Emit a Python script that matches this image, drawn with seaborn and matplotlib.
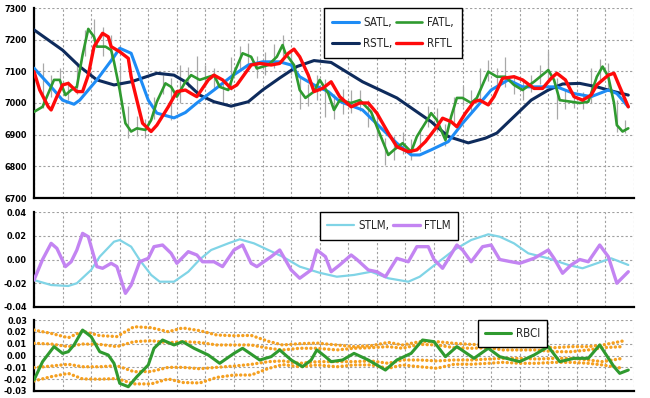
import matplotlib
matplotlib.use("Agg")
import matplotlib.pyplot as plt
import seaborn as sns
import numpy as np

# ---------------- data (x in bar-index units, 0..210) ----------------
rstl_x = [0,10,16,22,28,34,43,49,53,58,63,69,75,80,86,92,98,104,115,127,139,145,152,158,162,168,174,180,185,191,197,203,208]
rstl_y = [7231,7167,7115,7073,7057,7067,7094,7088,7067,7025,7004,6990,7004,7041,7079,7115,7134,7128,7067,7016,6941,6894,6874,6889,6905,6957,7009,7041,7060,7062,7051,7036,7025]

satl_x = [0,6,10,14,16,22,28,30,34,37,40,43,49,53,57,63,69,75,80,86,90,93,98,103,107,115,121,127,132,135,139,145,150,155,160,166,171,177,183,189,195,201,204,208]
satl_y = [7110,7051,7009,6996,7009,7073,7146,7173,7157,7083,7009,6968,6953,6970,7000,7041,7083,7120,7130,7130,7120,7083,7057,7036,7005,6978,6925,6873,6836,6836,6852,6878,6936,6988,7041,7073,7051,7051,7051,7030,7020,7041,7030,6988]

fatl_x = [0,3,7,9,11,13,15,17,19,21,22,25,27,28,30,32,34,36,39,41,43,46,48,50,53,55,58,63,65,68,70,73,76,78,82,85,87,88,91,93,95,98,100,103,105,107,111,114,118,120,124,126,129,132,134,138,139,141,144,146,148,150,153,155,159,162,165,168,171,175,180,182,184,188,191,194,197,199,201,203,204,206,208]
fatl_y = [6972,6988,7073,7073,7025,7041,7051,7152,7234,7209,7178,7178,7167,7130,7041,6936,6910,6920,6915,6946,7004,7062,7051,7020,7067,7088,7073,7088,7051,7041,7094,7157,7146,7109,7120,7146,7183,7157,7120,7041,7016,7036,7073,7030,6978,7009,7000,7009,6972,6925,6836,6852,6873,6846,6894,6952,6968,6946,6883,6957,7016,7016,7000,7016,7099,7083,7083,7057,7041,7067,7104,7073,7009,7004,7000,7004,7083,7115,7083,7000,6930,6910,6920]

rftl_x = [0,2,5,6,8,10,12,15,17,19,21,24,26,27,30,33,34,36,38,41,43,47,50,53,55,57,61,63,66,69,71,76,79,83,86,89,91,93,96,98,101,104,107,111,114,117,120,124,127,131,134,137,141,143,146,148,151,154,156,159,161,164,168,171,175,178,181,183,186,189,192,195,197,201,203,205,208]
rftl_y = [7099,7041,6988,6978,7020,7057,7062,7036,7036,7088,7178,7220,7209,7178,7162,7141,7083,7009,6936,6910,6930,6988,7036,7041,7030,7020,7073,7088,7073,7046,7057,7120,7125,7120,7125,7157,7170,7146,7088,7036,7046,7067,7020,6988,7000,7000,6968,6905,6862,6846,6852,6878,6925,6952,6941,6925,6968,7004,7009,6994,7020,7078,7083,7073,7046,7046,7078,7094,7073,7020,7009,7025,7057,7088,7094,7051,6988]

bar_x = list(range(0, 208, 3))
bar_high = [7010,7125,7090,7110,7070,7130,7230,7265,7240,7215,7120,6990,6960,6950,7020,7090,7080,7120,7115,7150,7120,7110,7070,7145,7180,7190,7150,7160,7185,7215,7160,7080,7060,7090,7075,7030,7045,7040,7040,7010,6975,6890,6895,6910,6885,6920,6990,6985,6935,7020,7055,7040,7110,7135,7110,7145,7090,7075,7090,7120,7165,7080,7040,7030,7035,7110,7140,7125,7010,6945]
bar_low = [6960,6985,7020,7040,7010,7030,7150,7180,7150,7140,7020,6890,6895,6890,6950,7030,6945,7000,7050,7030,7050,7040,7000,7040,7100,7120,7080,7090,7110,7150,7090,6980,6990,7010,6955,6950,6965,6970,6975,6925,6890,6805,6820,6840,6820,6850,6925,6910,6865,6940,6990,6975,7000,7070,7050,7050,7030,7010,7035,7060,7075,6950,6980,6985,6980,7000,7070,7040,6910,6905]

stlm_x = [0,6,12,15,20,23,28,30,34,37,41,44,49,54,58,62,68,72,77,82,87,93,100,106,112,118,124,131,135,141,147,153,159,163,168,173,180,187,192,197,202,208]
stlm_y = [-0.0173,-0.0215,-0.0223,-0.020,-0.0088,0.0024,0.015,0.0164,0.0108,-0.0004,-0.013,-0.0187,-0.0187,-0.0103,0.0,0.008,0.0136,0.017,0.0136,0.008,0.0024,-0.006,-0.0112,-0.0145,-0.013,-0.0103,-0.0158,-0.0187,-0.0145,-0.0032,0.008,0.0164,0.0212,0.0192,0.0136,0.0052,0.001,-0.0046,-0.0074,-0.0032,0.001,-0.0046]

ftlm_x = [0,3,6,8,11,13,15,17,19,22,24,27,29,32,34,37,40,42,45,48,50,54,57,59,63,66,70,73,76,78,83,86,90,93,97,99,102,104,107,111,113,117,120,123,127,131,134,138,140,143,148,150,153,157,160,163,167,170,175,180,182,185,188,191,194,198,201,204,208]
ftlm_y = [-0.0173,0.0,0.0136,0.0094,-0.006,-0.0019,0.008,0.022,0.0192,-0.006,-0.0074,-0.0032,-0.006,-0.0285,-0.0215,-0.0019,0.001,0.0108,0.0122,0.0052,-0.0032,0.0066,0.0038,-0.0019,-0.0019,-0.006,0.008,0.0122,-0.0032,-0.006,0.0024,0.008,-0.0088,-0.0158,-0.0088,0.008,0.0024,-0.0103,-0.0046,0.0038,0.0,-0.0088,-0.0103,-0.0145,0.001,-0.0019,0.0108,0.0108,0.0,-0.0074,0.0122,0.008,-0.0019,0.0108,0.0122,0.0,-0.0019,-0.0032,0.001,0.008,0.001,-0.0116,-0.0046,0.0,-0.0019,0.0122,0.0024,-0.020,-0.0103]

rbci_x = [0,3,7,10,12,14,17,20,23,26,28,30,33,36,40,42,45,49,52,56,61,65,70,73,79,83,86,90,94,97,99,102,104,108,112,117,123,127,132,136,140,144,148,154,159,163,170,175,180,184,189,194,198,203,205,208]
rbci_y = [-0.0207,-0.0052,0.0075,0.0018,0.0032,0.0089,0.0215,0.0159,0.0032,0.0004,-0.0066,-0.0235,-0.0264,-0.0179,-0.008,0.0061,0.0131,0.0089,0.0117,0.0061,0.0004,-0.0066,0.0018,0.0061,-0.0038,-0.001,0.0047,-0.0038,-0.0095,-0.0038,0.0047,-0.001,-0.0052,-0.0038,0.0018,-0.0038,-0.0123,-0.0038,0.0018,0.0131,0.0117,-0.001,0.0075,-0.0024,0.0061,-0.001,-0.0052,0.0004,0.0075,-0.0052,-0.0024,-0.0024,0.0089,-0.0095,-0.0151,-0.0123]

band_x = [0,6,12,17,23,29,35,41,47,52,58,64,70,76,82,87,93,99,106,112,118,124,129,135,141,147,153,159,164,170,176,182,188,194,199,206]
band_uo = [0.0215,0.0187,0.015,0.0205,0.0168,0.016,0.0243,0.0235,0.0201,0.0233,0.021,0.0173,0.0167,0.017,0.012,0.0089,0.010,0.0105,0.0089,0.0075,0.0083,0.0111,0.0089,0.0117,0.0117,0.0103,0.0094,0.0089,0.0075,0.0075,0.0075,0.0066,0.0075,0.0075,0.0089,0.0122]
band_ui = [0.0103,0.0097,0.0075,0.0097,0.0094,0.0075,0.0117,0.0125,0.0108,0.0117,0.011,0.0089,0.0089,0.0089,0.0061,0.0047,0.0061,0.0061,0.0047,0.0061,0.0066,0.0075,0.0061,0.0094,0.0089,0.0066,0.0061,0.0066,0.0047,0.0047,0.0047,0.0032,0.0032,0.0047,0.0066,0.0075]
band_li = [-0.0103,-0.0089,-0.0074,-0.0095,-0.0095,-0.0086,-0.0137,-0.0135,-0.010,-0.010,-0.0112,-0.010,-0.0089,-0.0075,-0.0052,-0.0046,-0.0066,-0.0052,-0.0052,-0.0052,-0.0046,-0.0066,-0.0038,-0.0038,-0.0046,-0.0038,-0.0038,-0.003,-0.0024,-0.0024,-0.003,-0.0024,-0.0024,-0.0038,-0.0052,-0.0024]
band_lo = [-0.0215,-0.0179,-0.0151,-0.0198,-0.020,-0.0195,-0.024,-0.024,-0.0198,-0.0228,-0.0232,-0.0185,-0.0165,-0.0165,-0.011,-0.0077,-0.0095,-0.008,-0.0095,-0.008,-0.008,-0.0108,-0.008,-0.0095,-0.0108,-0.0074,-0.0074,-0.0066,-0.0058,-0.0066,-0.0066,-0.0058,-0.0058,-0.0066,-0.008,-0.0108]

top_ticks = [6700, 6800, 6900, 7000, 7100, 7200, 7300]
mid_ticks = [-0.04, -0.02, 0.0, 0.02, 0.04]
bot_ticks = [-0.03, -0.02, -0.01, 0.0, 0.01, 0.02, 0.03]

# ---------------- style ----------------
sns.set_style("white")
plt.rcParams['font.family'] = ['DejaVu Sans']
plt.rcParams['font.stretch'] = 'condensed'
plt.rcParams['font.weight'] = 'bold'

C_SATL = "#1E8CF5"
C_FATL = "#2F9A2F"
C_RSTL = "#0E2B5C"
C_RFTL = "#FF0A0A"
C_STLM = "#80D4E6"
C_FTLM = "#C384F2"
C_RBCI = "#2F9A2F"
C_BAND = "#F5A020"
C_BAR = "#A8A8A8"

fig = plt.figure(figsize=(6.5, 3.98), dpi=100)
L, W = 34/650, 600/650
ax1 = fig.add_axes([L, 1-198/398, W, 190/398])
ax2 = fig.add_axes([L, 1-307/398, W, 95/398])
ax3 = fig.add_axes([L, 1-391/398, W, 71/398])

def style(ax, ticks, fmt):
    ax.set_xlim(0, 210)
    ax.set_ylim(ticks[0], ticks[-1])
    ax.set_xticks(range(0, 211, 10))
    ax.set_xticklabels([])
    ax.set_yticks(ticks)
    ax.set_yticklabels([fmt.format(t) for t in ticks])
    ax.grid(True, color="#A0A0A0", linestyle=(0, (2, 2)), linewidth=0.8)
    ax.set_axisbelow(True)
    for s in ("top", "right"):
        ax.spines[s].set_visible(False)
    for s in ("left", "bottom"):
        ax.spines[s].set_color("#000000")
        ax.spines[s].set_linewidth(1.6)
    ax.tick_params(axis="y", direction="out", length=3, width=1, labelsize=6.5, pad=2, colors="black")
    ax.tick_params(axis="x", direction="out", length=2, width=0.8)
    for lab in ax.get_yticklabels():
        lab.set_fontweight("bold")
        lab.set_fontstretch("condensed")
    ax.set_xlabel("")
    ax.set_ylabel("")

LEG = dict(frameon=True, fancybox=False, edgecolor="black", framealpha=1,
           handlelength=2.3, handletextpad=0.4, borderaxespad=0.0)
LEG_FONT = dict(size=8.3, weight="normal", stretch="condensed")

# ---- top panel ----
ax1.vlines(bar_x, bar_low, bar_high, color=C_BAR, linewidth=0.9, zorder=2)
sns.lineplot(x=rstl_x, y=rstl_y, ax=ax1, color=C_RSTL, lw=2.2, label="RSTL,", zorder=3, sort=False, estimator=None)
sns.lineplot(x=satl_x, y=satl_y, ax=ax1, color=C_SATL, lw=2.2, label="SATL,", zorder=4, sort=False, estimator=None)
sns.lineplot(x=fatl_x, y=fatl_y, ax=ax1, color=C_FATL, lw=1.9, label="FATL,", zorder=5, sort=False, estimator=None)
sns.lineplot(x=rftl_x, y=rftl_y, ax=ax1, color=C_RFTL, lw=2.4, label="RFTL", zorder=6, sort=False, estimator=None)
style(ax1, top_ticks, "{:.0f}")
h, l = ax1.get_legend_handles_labels()
order = [l.index(n) for n in ["SATL,", "RSTL,", "FATL,", "RFTL"]]
leg1 = ax1.legend([h[i] for i in order], [l[i] for i in order], ncol=2,
                  loc="upper left", bbox_to_anchor=((324-34)/600, 1.0),
                  prop=LEG_FONT, columnspacing=0.3, borderpad=0.7, labelspacing=0.65, **LEG)
leg1.get_frame().set_linewidth(1.0)

# ---- middle panel ----
sns.lineplot(x=stlm_x, y=stlm_y, ax=ax2, color=C_STLM, lw=1.6, label="STLM,", zorder=3, sort=False, estimator=None)
sns.lineplot(x=ftlm_x, y=ftlm_y, ax=ax2, color=C_FTLM, lw=2.4, label="FTLM", zorder=4, sort=False, estimator=None)
style(ax2, mid_ticks, "{:.2f}")
leg2 = ax2.legend(ncol=2, loc="upper left", bbox_to_anchor=((320-34)/600, 1.0),
                  prop=LEG_FONT, columnspacing=0.3, borderpad=0.65, **LEG)
leg2.get_frame().set_linewidth(1.0)

# ---- bottom panel ----
for band in (band_uo, band_ui, band_li, band_lo):
    ax3.plot(band_x, band, color=C_BAND, lw=2.4, linestyle=(0, (0.05, 1.3)),
             dash_capstyle="round", solid_capstyle="round", zorder=3)
sns.lineplot(x=rbci_x, y=rbci_y, ax=ax3, color=C_RBCI, lw=2.2, label="RBCI", zorder=4, sort=False, estimator=None)
style(ax3, bot_ticks, "{:.2f}")
leg3 = ax3.legend(loc="upper left", bbox_to_anchor=((478-34)/600, 1.0),
                  prop=LEG_FONT, borderpad=0.6, **LEG)
leg3.get_frame().set_linewidth(1.0)

fig.savefig("out.png", dpi=100)
